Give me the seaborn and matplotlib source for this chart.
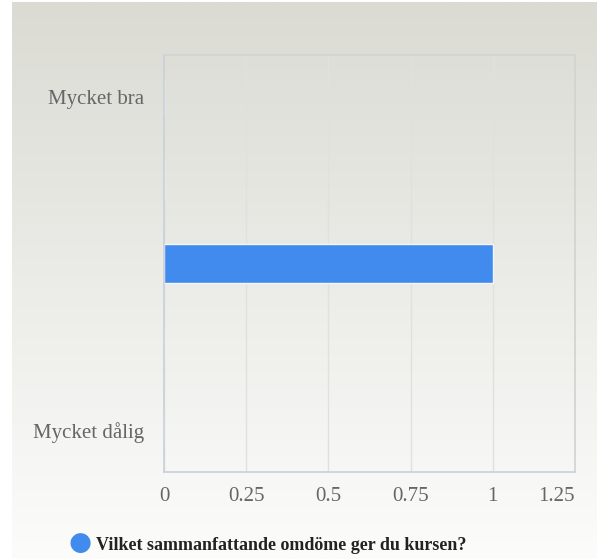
import numpy as np
import pandas as pd
import matplotlib
matplotlib.use("Agg")
import matplotlib.pyplot as plt
import seaborn as sns

# svarsalternativ, uppifrån och ned
kategorier = ["Mycket bra", "Bra", "Varken bra eller dålig", "Dålig", "Mycket dålig"]
visade_etiketter = ["Mycket bra", "", "", "", "Mycket dålig"]
antal = [0, 0, 1, 0, 0]
x_ticks = [0, 0.25, 0.5, 0.75, 1, 1.25]
x_etiketter = ["0", "0.25", "0.5", "0.75", "1", "1.25"]
serie_namn = "Vilket sammanfattande omdöme ger du kursen?"

sns.set_style("white")
plt.rcParams['font.family'] = ['Liberation Serif', 'DejaVu Serif']

df = pd.DataFrame({"kategori": kategorier, "antal": antal})

fig = plt.figure(figsize=(5.97, 5.59), dpi=100)
fig.patch.set_facecolor("white")

# bakgrund med gradient
bg = fig.add_axes([12 / 597, 0, 585 / 597, 557 / 559], zorder=0)
topp = np.array([219, 219, 212]) / 255
botten = np.array([252, 252, 251]) / 255
t = np.linspace(0, 1, 256)[:, None]
grad = topp * (1 - t) + botten * t
bg.imshow(grad[:, None, :], aspect="auto", extent=[0, 1, 0, 1], origin="upper")
bg.axis("off")

ax = fig.add_axes([164 / 597, 1 - 472 / 559, 411 / 597, 417 / 559], zorder=1)
ax.patch.set_alpha(0)

sns.barplot(data=df, x="antal", y="kategori", orient="h", color="#418bee",
            width=0.46, edgecolor="#f4f6fa", linewidth=1, saturation=1, ax=ax)

ax.set_xlim(0, 1.25)
ax.set_xticks(x_ticks)
ax.set_xticklabels(x_etiketter)
ax.set_yticks(range(len(kategorier)))
ax.set_yticklabels(visade_etiketter)
ax.set_xlabel("")
ax.set_ylabel("")
ax.grid(axis="x", color="#e0e0dc", linewidth=1)
ax.set_axisbelow(True)
ax.tick_params(axis="x", length=0, pad=11, labelsize=15, labelcolor="#666666")
ax.tick_params(axis="y", length=0, pad=14, labelsize=15, labelcolor="#666666")
# sista etiketten hålls innanför ramen
ax.get_xticklabels()[-1].set_horizontalalignment("right")

for side in ["left", "bottom"]:
    ax.spines[side].set_color("#c9d0dd")
    ax.spines[side].set_linewidth(1.2)
for side in ["top", "right"]:
    ax.spines[side].set_color("#d2d2d0")
    ax.spines[side].set_linewidth(1.2)

# förklaring
fig.text(80 / 597, 1 - 543 / 559, "●", color="#418bee", fontsize=19,
         ha="center", va="center", family=["DejaVu Sans"])
fig.text(96 / 597, 1 - 545 / 559, serie_namn, color="#222222", fontsize=13,
         fontweight="bold", ha="left", va="center")

fig.savefig("out.png", dpi=100, facecolor=fig.get_facecolor())
